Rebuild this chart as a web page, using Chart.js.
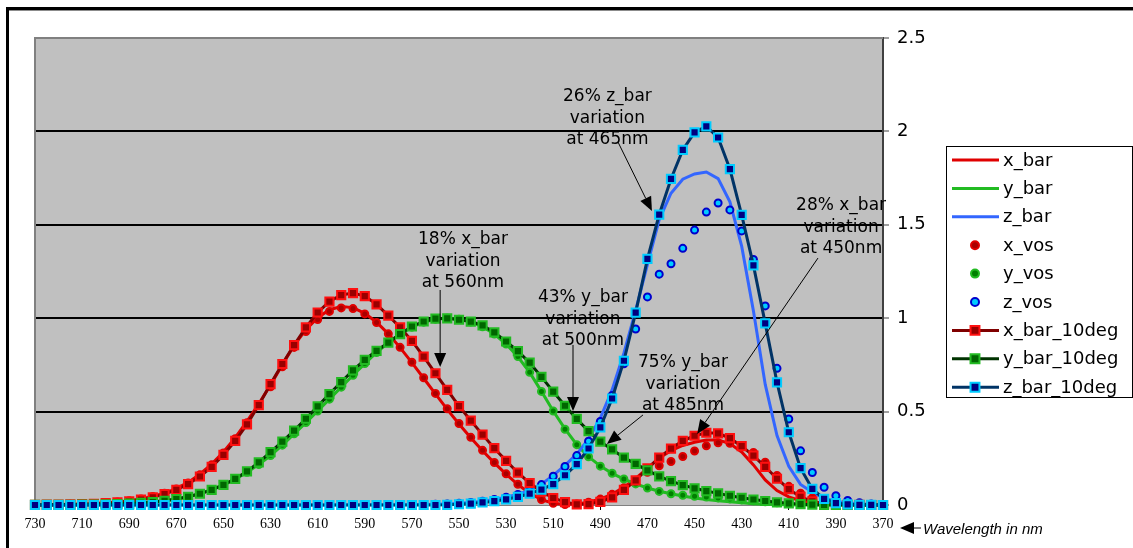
<!DOCTYPE html>
<html>
<head>
<meta charset="utf-8">
<title>Colour matching functions</title>
<script src="https://cdn.jsdelivr.net/npm/chart.js@4.4.0/dist/chart.umd.min.js"></script>
<style>
    html, body { margin: 0; padding: 0; background: #fff; }
    #wrap { position: relative; width: 1133px; height: 548px; }
</style>
</head>
<body>
<div id="wrap"><canvas id="cmfChart" width="1133" height="548"></canvas></div>
<script>
// wavelengths (nm), axis runs from 730 down to 370
const wavelengths = [
    730, 725, 720, 715, 710, 705, 700, 695, 690, 685,
    680, 675, 670, 665, 660, 655, 650, 645, 640, 635,
    630, 625, 620, 615, 610, 605, 600, 595, 590, 585,
    580, 575, 570, 565, 560, 555, 550, 545, 540, 535,
    530, 525, 520, 515, 510, 505, 500, 495, 490, 485,
    480, 475, 470, 465, 460, 455, 450, 445, 440, 435,
    430, 425, 420, 415, 410, 405, 400, 395, 390, 385,
    380, 375, 370
];

const xBar = [
    0.0014, 0.0020, 0.0029, 0.0041, 0.0058, 0.0081, 0.0114, 0.0158, 0.0227, 0.0329,
    0.0468, 0.0636, 0.0874, 0.1212, 0.1649, 0.2187, 0.2835, 0.3608, 0.4479, 0.5419,
    0.6424, 0.7514, 0.8545, 0.9384, 1.0026, 1.0456, 1.0622, 1.0567, 1.0263, 0.9786,
    0.9163, 0.8425, 0.7621, 0.6784, 0.5945, 0.5121, 0.4335, 0.3597, 0.2904, 0.2258,
    0.1655, 0.1096, 0.0633, 0.0291, 0.0093, 0.0024, 0.0049, 0.0147, 0.0320, 0.0580,
    0.0956, 0.1421, 0.1954, 0.2511, 0.2908, 0.3187, 0.3362, 0.3481, 0.3483, 0.3285,
    0.2839, 0.2148, 0.1344, 0.0776, 0.0435, 0.0232, 0.0143, 0.0077, 0.0042, 0.0022,
    0.0014, 0.0007, 0.0004
];
const yBar = [
    0.0005, 0.0007, 0.0010, 0.0015, 0.0021, 0.0029, 0.0041, 0.0057, 0.0082, 0.0119,
    0.0170, 0.0232, 0.0320, 0.0446, 0.0610, 0.0816, 0.1070, 0.1382, 0.1750, 0.2170,
    0.2650, 0.3210, 0.3810, 0.4412, 0.5030, 0.5668, 0.6310, 0.6949, 0.7570, 0.8163,
    0.8700, 0.9154, 0.9520, 0.9786, 0.9950, 1.0000, 0.9950, 0.9803, 0.9540, 0.9149,
    0.8620, 0.7932, 0.7100, 0.6082, 0.5030, 0.4073, 0.3230, 0.2586, 0.2080, 0.1693,
    0.1390, 0.1126, 0.0910, 0.0739, 0.0600, 0.0480, 0.0380, 0.0298, 0.0230, 0.0168,
    0.0116, 0.0073, 0.0040, 0.0022, 0.0012, 0.0006, 0.0004, 0.0002, 0.0001, 0.0001,
    0.0000, 0.0000, 0.0000
];
const zBar = [
    0, 0, 0, 0, 0, 0, 0, 0, 0, 0,
    0, 0, 0, 0, 0, 0, 0, 0, 0, 0,
    0.0001, 0.0001, 0.0002, 0.0002, 0.0003, 0.0006, 0.0008, 0.0010, 0.0011, 0.0014,
    0.0017, 0.0018, 0.0021, 0.0028, 0.0039, 0.0058, 0.0088, 0.0134, 0.0203, 0.0298,
    0.0422, 0.0573, 0.0783, 0.1117, 0.1582, 0.2123, 0.2720, 0.3533, 0.4652, 0.6162,
    0.8130, 1.0419, 1.2876, 1.5281, 1.6692, 1.7441, 1.7721, 1.7826, 1.7471, 1.6230,
    1.3856, 1.0391, 0.6456, 0.3713, 0.2074, 0.1102, 0.0679, 0.0362, 0.0201, 0.0106,
    0.0065, 0.0035, 0.0019
];

const xVos = [
    0.0014, 0.0020, 0.0028, 0.0040, 0.0057, 0.0079, 0.0111, 0.0156, 0.0222, 0.0321,
    0.0458, 0.0631, 0.0858, 0.1182, 0.1616, 0.2149, 0.2786, 0.3545, 0.4406, 0.5335,
    0.6329, 0.7398, 0.8435, 0.9286, 0.9924, 1.0362, 1.0550, 1.0513, 1.0230, 0.9770,
    0.9164, 0.8439, 0.7643, 0.6812, 0.5975, 0.5151, 0.4364, 0.3623, 0.2927, 0.2277,
    0.1669, 0.1108, 0.0638, 0.0293, 0.0093, 0.0023, 0.0048, 0.0146, 0.0317, 0.0570,
    0.0919, 0.1329, 0.1748, 0.2100, 0.2328, 0.2597, 0.2888, 0.3167, 0.3334, 0.3307,
    0.3110, 0.2811, 0.2295, 0.1582, 0.0999, 0.0632, 0.0380, 0.0208, 0.0108, 0.0053,
    0.0027, 0.0013, 0.0006
];
const yVos = [
    0.0005, 0.0007, 0.0010, 0.0015, 0.0021, 0.0029, 0.0041, 0.0058, 0.0082, 0.0119,
    0.0170, 0.0235, 0.0320, 0.0443, 0.0610, 0.0817, 0.1070, 0.1381, 0.1750, 0.2170,
    0.2650, 0.3205, 0.3810, 0.4417, 0.5030, 0.5665, 0.6310, 0.6948, 0.7570, 0.8162,
    0.8700, 0.9156, 0.9520, 0.9788, 0.9950, 1.0001, 0.9950, 0.9800, 0.9540, 0.9151,
    0.8620, 0.7951, 0.7100, 0.6081, 0.5030, 0.4054, 0.3230, 0.2581, 0.2080, 0.1699,
    0.1390, 0.1128, 0.0910, 0.0729, 0.0600, 0.0521, 0.0468, 0.0424, 0.0379, 0.0326,
    0.0273, 0.0227, 0.0175, 0.0118, 0.0074, 0.0047, 0.0028, 0.0015, 0.0008, 0.0004,
    0.0002, 0.0001, 0.0000
];
const zVos = [
    0, 0, 0, 0, 0, 0, 0, 0, 0, 0,
    0, 0, 0, 0, 0, 0, 0, 0, 0, 0.0001,
    0.0001, 0.0002, 0.0003, 0.0003, 0.0004, 0.0007, 0.0009, 0.0011, 0.0012, 0.0015,
    0.0018, 0.0020, 0.0023, 0.0029, 0.0040, 0.0059, 0.0088, 0.0133, 0.0200, 0.0294,
    0.0414, 0.0562, 0.0766, 0.1092, 0.1545, 0.2059, 0.2644, 0.3412, 0.4467, 0.5864,
    0.7560, 0.9422, 1.1138, 1.2356, 1.2917, 1.3740, 1.4717, 1.5682, 1.6166, 1.5796,
    1.4672, 1.3146, 1.0658, 0.7317, 0.4605, 0.2901, 0.1741, 0.0951, 0.0493, 0.0242,
    0.0123, 0.0060, 0.0030
];

const xBar10 = [
    0.0010, 0.0015, 0.0022, 0.0031, 0.0046, 0.0066, 0.0096, 0.0138, 0.0199, 0.0286,
    0.0409, 0.0579, 0.0813, 0.1122, 0.1526, 0.2043, 0.2683, 0.3437, 0.4316, 0.5351,
    0.6475, 0.7549, 0.8563, 0.9507, 1.0305, 1.0891, 1.1240, 1.1343, 1.1185, 1.0743,
    1.0142, 0.9512, 0.8787, 0.7938, 0.7052, 0.6161, 0.5298, 0.4516, 0.3768, 0.3042,
    0.2365, 0.1730, 0.1177, 0.0714, 0.0375, 0.0154, 0.0038, 0.0051, 0.0162, 0.0411,
    0.0805, 0.1323, 0.1956, 0.2541, 0.3023, 0.3430, 0.3707, 0.3867, 0.3837, 0.3577,
    0.3147, 0.2647, 0.2045, 0.1406, 0.0847, 0.0434, 0.0191, 0.0072, 0.0024, 0.0007,
    0.0002, 0.0000, 0.0000
];
const yBar10 = [
    0.0004, 0.0006, 0.0008, 0.0012, 0.0018, 0.0026, 0.0037, 0.0054, 0.0077, 0.0111,
    0.0159, 0.0226, 0.0318, 0.0441, 0.0603, 0.0812, 0.1076, 0.1402, 0.1798, 0.2283,
    0.2835, 0.3396, 0.3981, 0.4618, 0.5280, 0.5939, 0.6583, 0.7204, 0.7774, 0.8256,
    0.8689, 0.9152, 0.9556, 0.9824, 0.9973, 0.9991, 0.9918, 0.9822, 0.9620, 0.9238,
    0.8752, 0.8233, 0.7618, 0.6857, 0.6067, 0.5314, 0.4608, 0.3954, 0.3391, 0.2977,
    0.2536, 0.2199, 0.1852, 0.1528, 0.1282, 0.1063, 0.0895, 0.0747, 0.0621, 0.0496,
    0.0387, 0.0295, 0.0214, 0.0145, 0.0088, 0.0045, 0.0020, 0.0008, 0.0003, 0.0001,
    0.0000, 0.0000, 0.0000
];
const zBar10 = [
    0, 0, 0, 0, 0, 0, 0, 0, 0, 0,
    0, 0, 0, 0, 0, 0, 0, 0, 0, 0,
    0, 0, 0, 0, 0, 0, 0, 0, 0, 0,
    0, 0, 0, 0, 0, 0.0011, 0.0040, 0.0079, 0.0137, 0.0206,
    0.0305, 0.0431, 0.0607, 0.0822, 0.1120, 0.1592, 0.2185, 0.3024, 0.4153, 0.5701,
    0.7721, 1.0302, 1.3176, 1.5549, 1.7454, 1.9007, 1.9948, 2.0273, 1.9673, 1.7985,
    1.5535, 1.2825, 0.9725, 0.6568, 0.3894, 0.1971, 0.0860, 0.0323, 0.0105, 0.0029,
    0.0007, 0.0002, 0.0000
];

// y axis ticks
const yTicks = [0, 0.5, 1, 1.5, 2, 2.5];

// callouts: text centre and arrow ends, in (wavelength, value)
const callouts = [
    { text: ['26% z_bar', 'variation', 'at 465nm'], at: [487, 2.184], from: [482.5, 1.943], to: [468.1, 1.574] },
    { text: ['18% x_bar', 'variation', 'at 560nm'], at: [548.3, 1.419], from: [558, 1.151], to: [558, 0.739] },
    { text: ['43% y_bar', 'variation', 'at 500nm'], at: [497.4, 1.108], from: [501.6, 0.857], to: [501.6, 0.503] },
    { text: ['75% y_bar', 'variation', 'at 485nm'], at: [454.9, 0.760], from: [471.9, 0.482], to: [487.2, 0.327] },
    { text: ['28% x_bar', 'variation', 'at 450nm'], at: [387.8, 1.601], from: [397.6, 1.322], to: [448.9, 0.380] }
];

const SANS = '"DejaVu Sans", Verdana, sans-serif';

// convert wavelength/value to canvas pixels
function toPixel(chart, wl, v) {
    const step = wavelengths[0] - wavelengths[1];
    const x = chart.scales.x.getPixelForValue((wavelengths[0] - wl) / step);
    const y = chart.scales.y.getPixelForValue(v);
    return [x, y];
}

function drawArrow(ctx, x1, y1, x2, y2) {
    const a = Math.atan2(y2 - y1, x2 - x1);
    const L = 14, W = 6;
    const bx = x2 - L * Math.cos(a), by = y2 - L * Math.sin(a);
    ctx.beginPath();
    ctx.moveTo(x1, y1);
    ctx.lineTo(bx, by);
    ctx.stroke();
    ctx.beginPath();
    ctx.moveTo(x2, y2);
    ctx.lineTo(bx + W * Math.sin(a), by - W * Math.cos(a));
    ctx.lineTo(bx - W * Math.sin(a), by + W * Math.cos(a));
    ctx.closePath();
    ctx.fill();
}

// grey plot area, outer frame
const plotAreaPlugin = {
    id: 'plotArea',
    beforeDraw(chart) {
        const { ctx, chartArea: a } = chart;
        ctx.save();
        ctx.fillStyle = '#fff';
        ctx.fillRect(0, 0, chart.width, chart.height);
        ctx.fillStyle = '#C0C0C0';
        ctx.fillRect(a.left, a.top, a.right - a.left, a.bottom - a.top);
        // frame of the whole picture
        ctx.fillStyle = '#000';
        ctx.fillRect(6, 7, chart.width - 6, 3);
        ctx.fillRect(6, 7, 3, chart.height - 7);
        ctx.fillStyle = '#8c8c8c';
        ctx.fillRect(9, 10, chart.width - 9, 1);
        ctx.restore();
    },
    beforeDatasetsDraw(chart) {
        const { ctx, chartArea: a } = chart;
        ctx.save();
        ctx.strokeStyle = '#808080';
        ctx.lineWidth = 2;
        ctx.beginPath();
        ctx.moveTo(a.left, a.bottom);
        ctx.lineTo(a.left, a.top);
        ctx.lineTo(a.right, a.top);
        ctx.stroke();
        ctx.restore();
    }
};

// callout texts and arrows
const calloutPlugin = {
    id: 'callouts',
    afterDatasetsDraw(chart) {
        const ctx = chart.ctx;
        ctx.save();
        ctx.fillStyle = '#000';
        ctx.strokeStyle = '#000';
        ctx.lineWidth = 1;
        ctx.font = '17px ' + SANS;
        ctx.textAlign = 'center';
        ctx.textBaseline = 'middle';
        callouts.forEach(c => {
            const [tx, ty] = toPixel(chart, c.at[0], c.at[1]);
            c.text.forEach((line, i) => ctx.fillText(line, tx, ty + i * 21.5));
            const [x1, y1] = toPixel(chart, c.from[0], c.from[1]);
            const [x2, y2] = toPixel(chart, c.to[0], c.to[1]);
            drawArrow(ctx, x1, y1, x2, y2);
        });

        // axis title with arrow
        const a = chart.chartArea;
        const ay = a.bottom + 23;
        drawArrow(ctx, a.right + 38, ay, a.right + 17, ay);
        ctx.font = 'italic 15px "Liberation Sans", Arial, sans-serif';
        ctx.textAlign = 'left';
        ctx.fillText('Wavelength in nm', a.right + 40, ay + 2);
        ctx.restore();
    }
};

// boxed legend on the right
const boxLegendPlugin = {
    id: 'boxLegend',
    afterDraw(chart) {
        const ctx = chart.ctx;
        const left = 946, top = 146, w = 186, h = 251;
        ctx.save();
        ctx.fillStyle = '#fff';
        ctx.fillRect(left, top, w, h);
        ctx.strokeStyle = '#000';
        ctx.lineWidth = 1;
        ctx.strokeRect(left + 0.5, top + 0.5, w, h);
        ctx.font = '18px ' + SANS;
        ctx.textBaseline = 'middle';
        chart.data.datasets.forEach((ds, i) => {
            const y = top + 14 + i * 28.4;
            if (ds.showLine !== false) {
                ctx.strokeStyle = ds.borderColor;
                ctx.lineWidth = ds.borderWidth;
                ctx.beginPath();
                ctx.moveTo(952, y);
                ctx.lineTo(999, y);
                ctx.stroke();
            }
            if (ds.pointRadius > 0) {
                ctx.fillStyle = ds.pointBackgroundColor;
                ctx.strokeStyle = ds.pointBorderColor;
                ctx.lineWidth = ds.pointBorderWidth;
                Chart.helpers.drawPoint(ctx, {
                    pointStyle: ds.pointStyle,
                    radius: ds.pointRadius + 0.5,
                    borderWidth: ds.pointBorderWidth,
                    rotation: 0
                }, 975, y);
            }
            ctx.fillStyle = '#000';
            ctx.fillText(ds.label, 1003, y + 1);
        });
        ctx.restore();
    }
};

function lineSet(label, data, color, order) {
    return {
        label, data, order,
        borderColor: color, borderWidth: 3,
        pointRadius: 0, pointHoverRadius: 0,
        tension: 0, clip: false
    };
}

function dotSet(label, data, fill, edge, order) {
    return {
        label, data, order,
        showLine: false,
        pointStyle: 'circle', pointRadius: 3.5,
        pointBackgroundColor: fill, pointBorderColor: edge, pointBorderWidth: 2,
        pointHoverRadius: 3.5, clip: false
    };
}

function squareSet(label, data, color, fill, edge, order) {
    return {
        label, data, order,
        borderColor: color, borderWidth: 3, tension: 0,
        pointStyle: 'rect', pointRadius: 5.8,
        pointBackgroundColor: fill, pointBorderColor: edge, pointBorderWidth: 2,
        pointHoverRadius: 5.8, clip: false
    };
}

const ctx = document.getElementById('cmfChart');
new Chart(ctx, {
    type: 'line',
    data: {
        labels: wavelengths.map(String),
        datasets: [
            lineSet('x_bar', xBar, '#E00000', 9),
            lineSet('y_bar', yBar, '#22BB22', 8),
            lineSet('z_bar', zBar, '#3366FF', 7),
            dotSet('x_vos', xVos, '#AA0000', '#E00000', 6),
            dotSet('y_vos', yVos, '#008000', '#22BB22', 5),
            dotSet('z_vos', zVos, '#00CCFF', '#0000CC', 4),
            squareSet('x_bar_10deg', xBar10, '#800000', '#990000', '#FF1010', 3),
            squareSet('y_bar_10deg', yBar10, '#003300', '#006600', '#22BB22', 2),
            squareSet('z_bar_10deg', zBar10, '#003366', '#000080', '#00CCFF', 1)
        ]
    },
    options: {
        responsive: false,
        animation: false,
        devicePixelRatio: 1,
        layout: { padding: { left: 35, top: 38, right: 0, bottom: 0 } },
        plugins: {
            legend: { display: false },
            tooltip: { enabled: false }
        },
        scales: {
            x: {
                type: 'category',
                offset: false,
                afterFit: s => { s.height = 43; },
                grid: {
                    drawOnChartArea: false,
                    drawTicks: true,
                    tickLength: 5,
                    color: c => (c.index % 4 === 0 ? '#000' : 'transparent')
                },
                border: { display: true, color: '#808080', width: 1 },
                ticks: {
                    autoSkip: false,
                    maxRotation: 0,
                    padding: 6,
                    color: '#000',
                    font: { family: '"Liberation Serif", "Times New Roman", serif', size: 14 },
                    callback: (v, i) => (i % 4 === 0 ? wavelengths[i] : null)
                }
            },
            y: {
                position: 'right',
                min: yTicks[0],
                max: yTicks[yTicks.length - 1],
                afterFit: s => { s.width = 250; },
                afterBuildTicks: s => { s.ticks = yTicks.map(v => ({ value: v })); },
                grid: {
                    lineWidth: 2,
                    tickLength: 6,
                    tickWidth: 1,
                    tickColor: '#404040',
                    color: c => (c.tick && (c.tick.value === 0 || c.tick.value === 2.5) ? 'transparent' : '#000')
                },
                border: { display: true, color: '#404040', width: 2 },
                ticks: {
                    padding: 8,
                    color: '#000',
                    font: { family: SANS, size: 18 },
                    callback: v => String(v)
                }
            }
        }
    },
    plugins: [plotAreaPlugin, calloutPlugin, boxLegendPlugin]
});
</script>
</body>
</html>
